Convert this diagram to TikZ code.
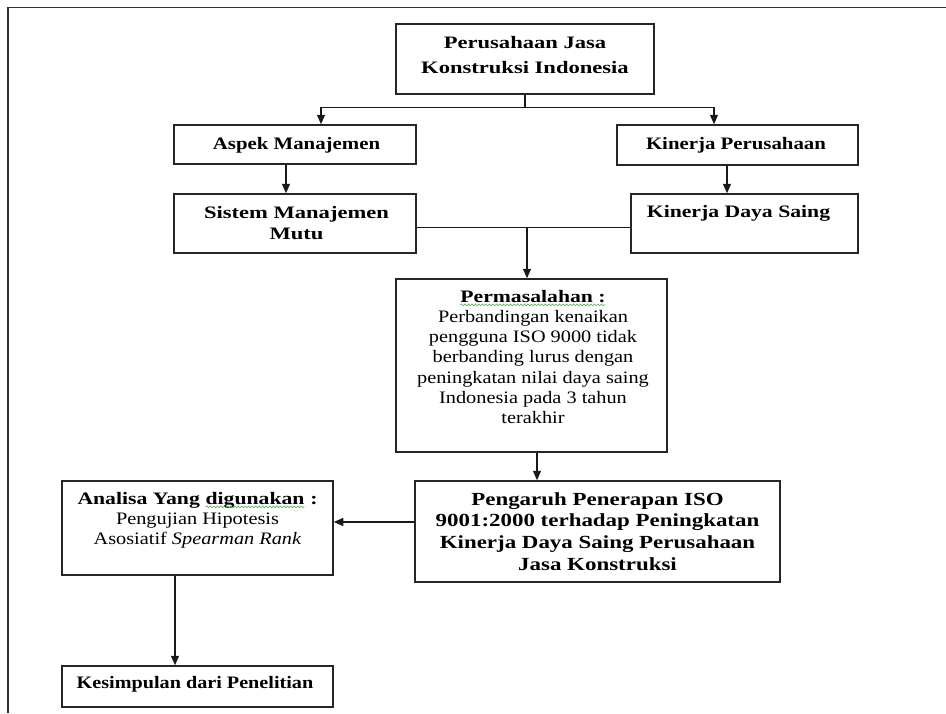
\documentclass[tikz,border=0pt]{standalone}
\usepackage{fontspec}
\setmainfont{Liberation Serif}[FakeStretch=1.16, BoldFeatures={FakeStretch=1.24}]
\usetikzlibrary{arrows.meta,calc,decorations.pathmorphing}
\definecolor{wavegreen}{RGB}{70,170,70}
\newcommand\greenwave[1]{\tikz[baseline=(gw.base)]{\node[inner sep=0pt,outer sep=0pt] (gw) {#1}; \draw[wavegreen, line width=0.6pt, decorate, decoration={snake, amplitude=0.9pt, segment length=3.5pt}] ([yshift=-2.5pt]gw.base west) -- ([yshift=-2.5pt]gw.base east);}}
\newcommand\hs[2]{\scalebox{#1}[1]{#2}}
\begin{document}
\begin{tikzpicture}[x=1pt,y=-1pt,
  box/.style={draw=black!85, line width=1.5pt, inner sep=0pt},
  txt/.style={inner sep=0pt, align=center, anchor=north},
  bfont/.style={font=\bfseries\fontsize{17.5}{21.5}\selectfont},
  arr/.style={draw=black!90, line width=1.3pt, -{Triangle[length=9.5pt,width=8pt]}},
  ln/.style={draw=black!90, line width=1.3pt}]
\useasboundingbox (0,0) rectangle (946,713);
% frame
\draw[black!80, line width=1.6pt] (946,7.3) -- (8,7.3) -- (8,713);
% boxes
\node[box, minimum width=258pt, minimum height=70pt] (top) at (525,59) {};
\node[box, minimum width=242pt, minimum height=39pt] (aspek) at (295,144.5) {};
\node[box, minimum width=241pt, minimum height=40pt] (kp) at (737.5,145) {};
\node[box, minimum width=242pt, minimum height=59pt] (smm) at (295,223.5) {};
\node[box, minimum width=227pt, minimum height=59pt] (kds) at (744.5,223.5) {};
\node[box, minimum width=271pt, minimum height=173pt] (perm) at (531.5,365.5) {};
\node[box, minimum width=365pt, minimum height=101pt] (peng) at (597.5,531.5) {};
\node[box, minimum width=271pt, minimum height=94pt] (ana) at (197.5,528) {};
\node[box, minimum width=271pt, minimum height=41pt] (kes) at (197.5,686.5) {};
% texts
\node[txt, font=\bfseries\fontsize{17.5}{25.6}\selectfont] (toptxt) at (525,36) {\hs{1.04}{Perusahaan Jasa}\\\hs{1.04}{Konstruksi Indonesia}};
\node[txt, bfont] (aspektxt) at (296.5,137.5) {\hs{0.96}{Aspek Manajemen}};
\node[txt, bfont] (kptxt) at (736,137.5) {\hs{0.96}{Kinerja Perusahaan}};
\node[txt, bfont] (smmtxt) at (296.5,206) {\hs{1.04}{Sistem Manajemen}\\\hs{1.04}{Mutu}};
\node[txt, bfont] (kdstxt) at (738.5,205) {Kinerja Daya Saing};
\node[txt, font=\fontsize{17.5}{20.2}\selectfont] (permtxt) at (533,290) {{\bfseries\greenwave{Permasalahan :}}\\Perbandingan kenaikan\\pengguna ISO 9000 tidak\\berbanding lurus dengan\\peningkatan nilai daya saing\\Indonesia pada 3 tahun\\terakhir};
\node[txt, font=\bfseries\fontsize{18.5}{21.7}\selectfont] (pengtxt) at (597.5,492) {Pengaruh Penerapan ISO\\9001:2000 terhadap Peningkatan\\Kinerja Daya Saing Perusahaan\\Jasa Konstruksi};
\node[txt, font=\fontsize{17.5}{20.2}\selectfont] (anatxt) at (197.5,492) {{\bfseries Analisa Yang \greenwave{digunakan} :}\\Pengujian Hipotesis\\Asosiatif \textit{Spearman Rank}};
\node[txt, bfont] (kestxt) at (195,676) {\hs{0.93}{Kesimpulan dari Penelitian}};
% connectors
\coordinate (j1) at ($(top.south)+(0,13)$);
\draw[ln] (top.south) -- (j1);
\draw[arr] (j1) -| ([xshift=26pt]aspek.north);
\draw[arr] (j1) -| ([xshift=-23.5pt]kp.north);
\draw[arr] ([xshift=-9pt]aspek.south) -- ([xshift=-9pt]smm.north);
\coordinate (kpout) at ([xshift=-10.5pt]kp.south);
\draw[arr] (kpout) -- (kpout |- kds.north);
\coordinate (pin) at ([xshift=-4.5pt]perm.north);
\coordinate (smmr) at ([yshift=-4pt]smm.east);
\draw[ln] (smmr) -- (smmr -| kds.west);
\draw[arr] (smmr -| pin) -- (pin);
\coordinate (pout) at ([xshift=5.5pt]perm.south);
\draw[arr] (pout) -- (pout |- peng.north);
\coordinate (pgw) at ([yshift=9.5pt]peng.west);
\draw[arr] (pgw) -- (pgw -| ana.east);
\coordinate (aout) at ([xshift=-22.5pt]ana.south);
\draw[arr] (aout) -- (aout |- kes.north);
\end{tikzpicture}
\end{document}
